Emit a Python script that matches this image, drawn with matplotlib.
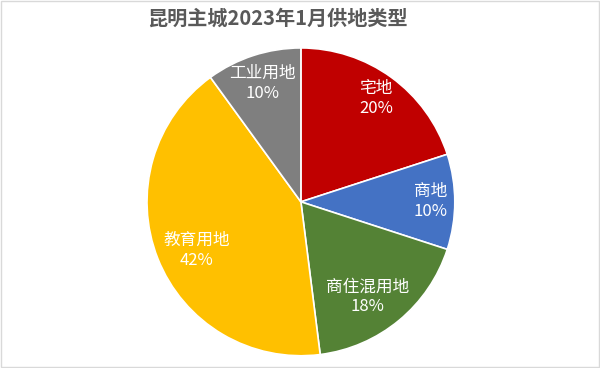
import matplotlib
matplotlib.use("Agg")
import matplotlib.pyplot as plt
from matplotlib.patches import Rectangle
import numpy as np

plt.rcParams['font.family'] = ['Noto Sans CJK SC', 'DejaVu Sans']

categories = ['宅地', '商地', '商住混用地', '教育用地', '工业用地']
values = [20, 10, 18, 42, 10]
colors = ['#C00000', '#4472C4', '#548235', '#FFC000', '#7F7F7F']
label_dist = [0.83, 0.84, 0.755, 0.75, 0.81]
label_angle_shift = [0, 0, -4.4, 3.4, 0]

fig = plt.figure(figsize=(6.0, 3.68), dpi=100)
ax = fig.add_axes([0.245, 0.033, 0.513, 0.837])
wedges, _ = ax.pie(values, colors=colors, startangle=90, counterclock=False,
                   wedgeprops=dict(edgecolor='white', linewidth=1.2))
for w, name, v, d, s in zip(wedges, categories, values, label_dist, label_angle_shift):
    ang = np.deg2rad((w.theta1 + w.theta2) / 2 + s)
    ax.text(d * np.cos(ang), d * np.sin(ang), f"{name}\n{v}%", ha='center', va='center',
            color='white', fontsize=12, linespacing=1.25)
ax.set_xlim(-1, 1)
ax.set_ylim(-1, 1)
ax.set_aspect('equal')

fig.text(0.463, 0.951, '昆明主城2023年1月供地类型', ha='center', va='center',
         fontsize=14.5, fontweight='bold', color='#595959')
fig.patches.append(Rectangle((0.001, 0.002), 0.997, 0.995, transform=fig.transFigure,
                             fill=False, edgecolor='#D9D9D9', linewidth=1))
fig.savefig('out.png', dpi=100)
